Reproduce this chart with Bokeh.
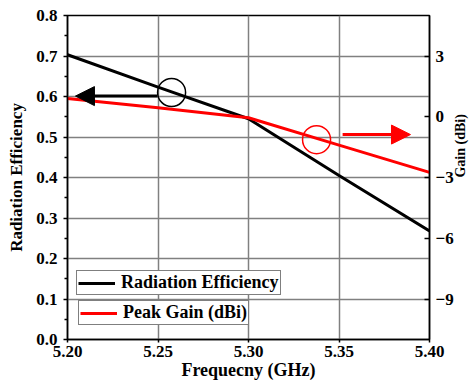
import math
from bokeh.plotting import figure
from bokeh.models import (Range1d, LinearAxis, Legend, LegendItem, Arrow, NormalHead,
                          FixedTicker, PrintfTickFormatter)
from bokeh.embed import file_html
from bokeh.resources import INLINE

# Frequency sweep (GHz)
freq = [5.20, 5.25, 5.30, 5.35, 5.40]
# Radiation efficiency (left axis)
efficiency = [0.703, 0.623, 0.545, 0.405, 0.268]
# Peak gain in dBi (right axis)
peak_gain = [0.9, 0.45, -0.05, -1.4, -2.75]

x_ticks = [5.20, 5.25, 5.30, 5.35, 5.40]
eff_ticks = [0.0, 0.1, 0.2, 0.3, 0.4, 0.5, 0.6, 0.7, 0.8]
gain_ticks = [-9, -6, -3, 0, 3]

# Callout markers: circle centres and arrow ends
eff_marker = (5.2575, 0.61)
eff_arrow = (5.2497, 5.2044, 0.601)
gain_marker = (5.3376, -1.13)
gain_arrow = (5.3520, 5.3895, -0.88)

FONT = "Liberation Serif"

p = figure(frame_width=362, frame_height=324, output_backend="svg", toolbar_location=None,
           x_range=Range1d(5.20, 5.40), y_range=Range1d(0.0, 0.8),
           min_border_left=67, min_border_right=40, min_border_top=15, min_border_bottom=46)
p.extra_y_ranges = {"gain": Range1d(-11, 5)}

p.outline_line_color = "black"
p.outline_line_width = 1.5
p.background_fill_color = "white"
p.border_fill_color = "white"

# grid
p.xgrid.ticker = FixedTicker(ticks=x_ticks)
p.ygrid.ticker = FixedTicker(ticks=eff_ticks)
for g in (p.xgrid, p.ygrid):
    g.grid_line_color = "#808080"
    g.grid_line_width = 1.5

# x axis
xa = p.xaxis[0]
xa.ticker = FixedTicker(ticks=x_ticks)
xa.formatter = PrintfTickFormatter(format="%.2f")
xa.axis_label = "Frequecny (GHz)"
xa.major_tick_out = 3
xa.major_tick_in = 0
xa.minor_tick_line_color = None
xa.major_label_standoff = 3
xa.axis_label_standoff = 0

# left axis
ya = p.yaxis[0]
ya.ticker = FixedTicker(ticks=eff_ticks, minor_ticks=[0.05 + 0.1 * i for i in range(8)])
ya.formatter = PrintfTickFormatter(format="%.1f")
ya.axis_label = "Radiation Efficiency"
ya.major_tick_out = 4
ya.major_tick_in = 0
ya.minor_tick_out = 3
ya.minor_tick_in = 0
ya.major_label_standoff = 6
ya.axis_label_standoff = 7

# right axis (gain), title reading bottom to top
ra = LinearAxis(y_range_name="gain", axis_label="Gain (dBi)")
ra.ticker = FixedTicker(ticks=gain_ticks)
ra.major_tick_in = 5
ra.major_tick_out = 0
ra.minor_tick_line_color = None
ra.major_label_standoff = 6
ra.axis_label_standoff = 4
ra.axis_label_orientation = math.pi / 2
p.add_layout(ra, "right")

for ax in (xa, ya, ra):
    ax.axis_line_color = "black"
    ax.axis_line_width = 1.5
    ax.major_tick_line_color = "black"
    ax.major_tick_line_width = 1.5
    ax.minor_tick_line_width = 1.5
    ax.major_label_text_font = FONT
    ax.major_label_text_font_style = "bold"
    ax.major_label_text_font_size = "17px"
    ax.major_label_text_color = "black"
    ax.axis_label_text_font = FONT
    ax.axis_label_text_font_style = "bold"
    ax.axis_label_text_color = "black"

xa.axis_label_text_font_size = "18px"
ya.axis_label_text_font_size = "17px"
ra.axis_label_text_font_size = "14px"

# series
r_eff = p.line(freq, efficiency, line_color="black", line_width=3)
r_gain = p.line(freq, peak_gain, line_color="red", line_width=3, y_range_name="gain")

# callouts
p.scatter([eff_marker[0]], [eff_marker[1]], marker="circle", size=28,
          fill_color=None, line_color="black", line_width=1.5)
p.add_layout(Arrow(x_start=eff_arrow[0], x_end=eff_arrow[1], y_start=eff_arrow[2], y_end=eff_arrow[2],
                   line_color="black", line_width=3,
                   end=NormalHead(size=19, fill_color="black", line_color="black")))
p.scatter([gain_marker[0]], [gain_marker[1]], marker="circle", size=28, y_range_name="gain",
          fill_color=None, line_color="red", line_width=1.5)
p.add_layout(Arrow(x_start=gain_arrow[0], x_end=gain_arrow[1], y_start=gain_arrow[2], y_end=gain_arrow[2],
                   y_range_name="gain", line_color="red", line_width=3,
                   end=NormalHead(size=19, fill_color="red", line_color="red")))

# two separate legend boxes
def make_legend(label, renderer, loc):
    lg = Legend(items=[LegendItem(label=label, renderers=[renderer])], location=loc)
    lg.border_line_color = "black"
    lg.border_line_width = 1
    lg.background_fill_alpha = 1
    lg.padding = 1
    lg.margin = 0
    lg.spacing = 0
    lg.glyph_width = 37
    lg.glyph_height = 18
    lg.label_standoff = 6
    lg.label_text_font = FONT
    lg.label_text_font_style = "bold"
    lg.label_text_font_size = "18px"
    lg.label_text_color = "black"
    return lg

p.add_layout(make_legend("Radiation Efficiency", r_eff, (9, 44)))
p.add_layout(make_legend("Peak Gain (dBi)", r_gain, (11, 14)))

open("out.html", "w").write(file_html(p, INLINE))
